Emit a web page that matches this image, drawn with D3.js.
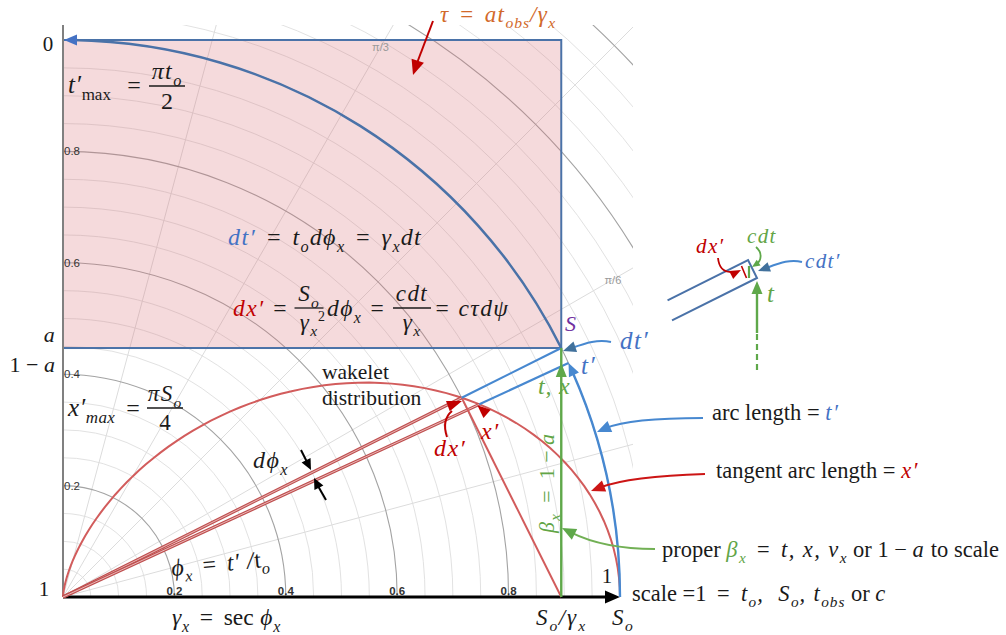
<!DOCTYPE html>
<html><head><meta charset="utf-8">
<script src="https://cdn.jsdelivr.net/npm/d3@7"></script>
<style>body{margin:0;background:#fff}svg{display:block}text{white-space:pre}</style>
</head><body>
<svg id="c" width="1006" height="635"></svg>
<script>
// Geometry of the construction (unit circle, scale = 1)
const betaX = 0.447;            // height of S: proper β_x = 1 − a
const dPhiX = 0.03;             // angular width dϕ_x of the ray pair (rad)
const ringMajor = [0.2, 0.4, 0.6, 0.8, 1.0, 1.2, 1.4];
const ringMinorStep = 0.05;
const ringMax = 1.45;
const ringLabelValues = [0.2, 0.4, 0.6, 0.8];
const ringLabelText = ["0.2", "0.4", "0.6", "0.8"];
const spokeDegrees = [15, 30, 45, 60, 75];
const spokeLabelDegrees = [30, 60];
const spokeLabelText = ["π/6", "π/3"];
const spokeLabelRadius = 1.14;

const C = {
  blueDark: "#4a72a8", blueLine: "#4788d0", blueText: "#4472c4", blueHead: "#41719c",
  red: "#c00000", redCurve: "#d25c5c", redRay: "#bf4f4f",
  green: "#5fa84a", greenText: "#62a546", orange: "#d2692a", purple: "#7030a0",
  ink: "#1a1a1a", grid: "#e2e2e2", gridMajor: "#a3a3a3"
};
const MATH = "'Liberation Serif', 'DejaVu Serif', serif";

const svg = d3.select("#c");
const X = d3.scaleLinear().domain([0, 1]).range([63, 620]);
const Y = d3.scaleLinear().domain([0, 1]).range([597, 40]);
const R = X(1) - X(0);
const P = (r, th) => [X(r * Math.cos(th)), Y(r * Math.sin(th))];
const phi = Math.asin(betaX);
const phi2 = phi - dPhiX;
const gammaInv = Math.cos(phi);

function arcPath(r, t0, t1) {
  const p = d3.path();
  const [x0, y0] = P(r, t0);
  p.moveTo(x0, y0);
  p.arc(X(0), Y(0), r * R, -t0, -t1, true);
  return p.toString();
}
function head(g, tx, ty, dx, dy, len, wid, color) {
  const m = Math.hypot(dx, dy); dx /= m; dy /= m;
  const bx = tx - dx * len, by = ty - dy * len;
  const px = -dy * wid / 2, py = dx * wid / 2;
  g.append("path").attr("d", `M${tx},${ty}L${bx + px},${by + py}L${bx - px},${by - py}Z`).attr("fill", color);
}
function leader(g, pts, color, w, hl, hw, headColor) {
  const [p0, c1, c2, tip] = pts;
  const dx = tip[0] - c2[0], dy = tip[1] - c2[1], m = Math.hypot(dx, dy);
  const ex = tip[0] - dx / m * hl * 0.7, ey = tip[1] - dy / m * hl * 0.7;
  g.append("path").attr("d", `M${p0}C${c1} ${c2} ${ex},${ey}`)
    .attr("fill", "none").attr("stroke", color).attr("stroke-width", w);
  head(g, tip[0], tip[1], dx, dy, hl, hw, headColor || color);
}
// text with _{sub}, ^{sup}, {#hex|coloured}, {~upright}; italic runs get math spacing
function rich(g, x, y, src, o = {}) {
  const size = o.size || 22;
  const ls = o.ls === undefined ? 1.4 : o.ls;
  const t = g.append("text").attr("x", x).attr("y", y)
    .attr("font-family", o.family || MATH).attr("font-size", size)
    .attr("font-style", o.upright ? "normal" : "italic")
    .attr("fill", o.color || C.ink);
  if (o.anchor) t.attr("text-anchor", o.anchor);
  if (o.rotate) t.attr("transform", `rotate(${o.rotate},${x},${y})`);
  const stack = [{ color: null, shift: 0, scale: 1, style: null }];
  let cur = 0, buf = "";
  const flush = () => {
    if (!buf) return;
    const s = stack[stack.length - 1];
    const italic = s.style ? s.style === "italic" : !o.upright;
    const txt = italic ? buf.replace(/ = /g, "\u2004=\u2004") : buf;
    const sp = t.append("tspan").text(txt);
    if (s.color) sp.attr("fill", s.color);
    if (s.scale !== 1) sp.attr("font-size", size * s.scale);
    if (s.style) sp.attr("font-style", s.style);
    if (italic && ls) sp.attr("letter-spacing", ls * s.scale);
    if (s.shift !== cur) { sp.attr("dy", s.shift - cur); cur = s.shift; }
    buf = "";
  };
  for (let i = 0; i < src.length; i++) {
    const c = src[i], top = stack[stack.length - 1];
    if ((c === "_" || c === "^") && src[i + 1] === "{") {
      flush();
      stack.push({ ...top, scale: top.scale * 0.68, shift: top.shift + (c === "_" ? 0.28 : -0.42) * size * top.scale });
      i++;
    } else if (c === "{" && src[i + 1] === "#") {
      flush();
      const bar = src.indexOf("|", i);
      stack.push({ ...top, color: src.slice(i + 1, bar) });
      i = bar;
    } else if (c === "{" && src[i + 1] === "~") {
      flush(); stack.push({ ...top, style: "normal" }); i++;
    } else if (c === "}") {
      flush(); stack.pop();
    } else buf += c;
  }
  flush();
  return t;
}
function frac(g, cx, yl, num, den, w, o = {}) {
  const size = o.size || 22;
  rich(g, cx, yl - 0.3 * size, num, { ...o, anchor: "middle" });
  g.append("line").attr("x1", cx - w / 2).attr("x2", cx + w / 2).attr("y1", yl).attr("y2", yl)
    .attr("stroke", o.color || C.ink).attr("stroke-width", 1.3);
  rich(g, cx, yl + 0.95 * size, den, { ...o, anchor: "middle" });
}

// ---------- polar grid ----------
svg.append("defs").append("clipPath").attr("id", "gridClip")
  .append("rect").attr("x", X(0)).attr("y", 25).attr("width", 633 - X(0)).attr("height", Y(0) - 25);
const grid = svg.append("g").attr("clip-path", "url(#gridClip)").attr("fill", "none");
const minorRings = d3.range(1, Math.round(ringMax / ringMinorStep) + 1).map(i => i * ringMinorStep)
  .filter(r => !ringMajor.some(m => Math.abs(m - r) < 1e-6));
grid.selectAll(".minor").data(minorRings).join("path")
  .attr("d", r => arcPath(r, 0, Math.PI / 2)).attr("stroke", C.grid).attr("stroke-width", 1);
grid.selectAll(".spoke").data(spokeDegrees).join("line")
  .attr("x1", X(0)).attr("y1", Y(0))
  .attr("x2", d => P(1.6, d * Math.PI / 180)[0]).attr("y2", d => P(1.6, d * Math.PI / 180)[1])
  .attr("stroke", "#dcdcdc").attr("stroke-width", 1);
grid.selectAll(".major").data(ringMajor).join("path")
  .attr("d", r => arcPath(r, 0, Math.PI / 2)).attr("stroke", C.gridMajor).attr("stroke-width", 1.1);

// ---------- shaded region 0..a above S ----------
svg.append("rect")
  .attr("x", X(0)).attr("y", Y(1))
  .attr("width", X(gammaInv) - X(0)).attr("height", Y(betaX) - Y(1))
  .attr("fill", "rgb(215,112,120)").attr("fill-opacity", 0.26)
  .attr("stroke", C.blueDark).attr("stroke-width", 2);

// spoke labels and ring labels
const lab = svg.append("g").attr("font-family", "'Liberation Sans', Arial, sans-serif");
spokeLabelDegrees.forEach((d, i) => {
  const [x, y] = P(spokeLabelRadius, d * Math.PI / 180);
  lab.append("text").attr("x", x).attr("y", y + 4).attr("text-anchor", "middle")
    .attr("font-size", 11).attr("fill", "#9a9a9a").text(spokeLabelText[i]);
});
ringLabelValues.forEach((v, i) => {
  lab.append("text").attr("x", X(v)).attr("y", Y(0) - 2).attr("text-anchor", "middle")
    .attr("font-size", 11.5).attr("font-weight", 600).attr("fill", "#333").text(ringLabelText[i]);
  lab.append("text").attr("x", X(0) + 1).attr("y", Y(v) + 4)
    .attr("font-size", 11.5).attr("fill", "#333").text(ringLabelText[i]);
});

// ---------- axes ----------
svg.append("line").attr("x1", X(0)).attr("x2", X(0)).attr("y1", Y(0)).attr("y2", 25)
  .attr("stroke", "#808080").attr("stroke-width", 2);
svg.append("line").attr("x1", X(0)).attr("x2", X(1) - 10).attr("y1", Y(0)).attr("y2", Y(0))
  .attr("stroke", "#000").attr("stroke-width", 2.8);
head(svg, X(1), Y(0), 1, 0, 15, 13, "#000");

// ---------- wakelet distribution r = cos²ϕ ----------
const wakeAngles = d3.range(0, 91).map(d => d * Math.PI / 180);
svg.append("path")
  .attr("d", d3.line()(wakeAngles.map(t => P(Math.cos(t) ** 2, t))))
  .attr("fill", "none").attr("stroke", C.redCurve).attr("stroke-width", 2);

// rays ϕ and ϕ − dϕ from the origin to the wakelet
[phi, phi2].forEach(t => {
  const [x1, y1] = P(Math.cos(t) ** 2, t);
  svg.append("line").attr("x1", X(0)).attr("y1", Y(0)).attr("x2", x1).attr("y2", y1)
    .attr("stroke", C.redRay).attr("stroke-width", 3.2);
  svg.append("line").attr("x1", X(0)).attr("y1", Y(0)).attr("x2", x1).attr("y2", y1)
    .attr("stroke", "#eec4c4").attr("stroke-width", 0.9);
});
// tangent x' from S_o/γ_x to the wakelet
{
  const [x1, y1] = P(Math.cos(phi) ** 2, phi);
  svg.append("line").attr("x1", X(gammaInv)).attr("y1", Y(0)).attr("x2", x1).attr("y2", y1)
    .attr("stroke", C.redCurve).attr("stroke-width", 2);
}
// continuation of the rays from the wakelet to the unit circle
[phi, phi2].forEach(t => {
  const [x0, y0] = P(Math.cos(t) ** 2, t), [x1, y1] = P(1, t);
  svg.append("line").attr("x1", x0).attr("y1", y0).attr("x2", x1).attr("y2", y1)
    .attr("stroke", C.blueLine).attr("stroke-width", 2.2);
});

// ---------- unit circle: arc length t' ----------
svg.append("path").attr("d", arcPath(1, phi, Math.PI / 2 - 0.018))
  .attr("fill", "none").attr("stroke", C.blueDark).attr("stroke-width", 2.5);
head(svg, X(0) + 1, Y(1), -1, 0, 13, 11, C.blueText);
svg.append("path").attr("d", arcPath(1, 0, phi2 - 0.016))
  .attr("fill", "none").attr("stroke", C.blueLine).attr("stroke-width", 2.4);
{
  const [tx, ty] = P(1, phi2);
  head(svg, tx, ty, -Math.sin(phi2), -Math.cos(phi2), 13, 11, C.blueLine);
}

// ---------- proper β_x ----------
svg.append("line").attr("x1", X(gammaInv)).attr("x2", X(gammaInv)).attr("y1", Y(0)).attr("y2", Y(betaX))
  .attr("stroke", C.green).attr("stroke-width", 2.4);
head(svg, X(gammaInv), Y(betaX) + 15, 0, -1, 14, 11, C.green);

// ---------- annotations ----------
const T = svg.append("g");
// τ
rich(T, 440, 22, "τ = at_{obs}/γ_{x}", { size: 23, color: C.orange });
svg.append("line").attr("x1", 433).attr("y1", 21).attr("x2", 417).attr("y2", 63)
  .attr("stroke", C.red).attr("stroke-width", 2);
head(svg, 413, 75, -4, 12, 15, 13, C.red);

// vertical axis marks
rich(T, 48, 51, "0", { size: 21, upright: true, anchor: "middle" });
rich(T, 50, 342, "a", { size: 22, anchor: "middle" });
rich(T, 33, 372, "{~1 − }a", { size: 22, anchor: "middle" });
rich(T, 44, 596, "1", { size: 21, upright: true, anchor: "middle" });

// t'max and x'max
rich(T, 68, 93, "t′_{{~max}}", { size: 25, ls: 0.6 });
rich(T, 134, 93, "=", { size: 24, upright: true, anchor: "middle" });
frac(T, 167, 86, "πt_{o}", "{~2}", 36, { size: 24 });
rich(T, 68, 416, "x′_{max}", { size: 25, ls: 0.6 });
rich(T, 133, 416, "=", { size: 24, upright: true, anchor: "middle" });
frac(T, 165, 408, "πS_{o}", "{~4}", 36, { size: 23 });

// dt' relation
rich(T, 228, 245, "{#4472c4|dt′} = t_{o}dϕ_{x} = γ_{x}dt", { size: 24 });
// dx' relation
rich(T, 233, 316, "{#c00000|dx′} =", { size: 23.5 });
frac(T, 309, 308, "S_{o}", "γ_{x}", 29, { size: 23 });
rich(T, 318, 321, "2", { size: 14, upright: true });
rich(T, 327, 316, "dϕ_{x} =", { size: 23.5 });
frac(T, 412, 308, "cdt", "γ_{x}", 38, { size: 23 });
rich(T, 434, 316, "= cτdψ", { size: 23.5 });

// around S
rich(T, 565, 331, "S", { size: 22, color: C.purple });
rich(T, 620, 349, "dt′", { size: 25, color: C.blueText });
leader(T, [[611, 342], [598, 339], [586, 343], [563, 351]], C.blueLine, 2, 13, 11, C.blueHead);
rich(T, 581, 374, "t′", { size: 25, color: C.blueText });
rich(T, 538, 394, "t, x", { size: 24, color: C.greenText, ls: 0.8 });
rich(T, 554, 533, "β_{x} = {~1 − }a", { size: 22, color: C.greenText, rotate: -90 });

// wakelet labels
T.append("text").attr("x", 322).attr("y", 379).attr("font-family", MATH).attr("font-size", 21.5)
  .attr("fill", C.ink).text("wakelet");
T.append("text").attr("x", 322).attr("y", 405).attr("font-family", MATH).attr("font-size", 21.5)
  .attr("fill", C.ink).text("distribution");

// dϕ_x
rich(T, 253, 468, "dϕ_{x}", { size: 24 });
svg.append("line").attr("x1", 301).attr("y1", 450).attr("x2", 307).attr("y2", 462).attr("stroke", "#000").attr("stroke-width", 2);
head(svg, 311, 470, 0.45, 0.9, 11, 10, "#000");
svg.append("line").attr("x1", 326).attr("y1", 500).attr("x2", 318).attr("y2", 486).attr("stroke", "#000").attr("stroke-width", 2);
head(svg, 314, 478, -0.45, -0.9, 11, 10, "#000");

// ϕ_x and γ_x
rich(T, 172, 576, "ϕ_{x} = t′ /{~t}_{o}", { size: 24, rotate: -5.5, ls: 0.8 });
rich(T, 172, 625, "γ_{x} = {~sec} ϕ_{x}", { size: 23.5, ls: 0.8 });
rich(T, 536, 625, "S_{o}/γ_{x}", { size: 23, ls: 2 });
rich(T, 612, 625, "S_{o}", { size: 23 });
rich(T, 607, 583, "1", { size: 21, upright: true, anchor: "middle" });

// dx' and x' at the wakelet
rich(T, 434, 456, "dx′", { size: 24, color: C.red });
T.append("path").attr("d", "M447,437 C443,425 446,416 452,411").attr("fill", "none")
  .attr("stroke", C.red).attr("stroke-width", 2);
head(svg, 462, 401, 0.94, -0.34, 15, 11, C.red);
rich(T, 481, 439, "x′", { size: 24, color: C.red });
{
  const [tx, ty] = P(Math.cos(phi2) ** 2, phi2);
  head(svg, tx - 2, ty + 1, -0.75, -0.66, 13, 11, C.red);
}

// right-hand legend notes
rich(T, 712, 420, "{~arc length = }{#4472c4|t′}", { size: 22.5 });
leader(T, [[703, 418], [670, 418], [625, 420], [597, 432]], C.blueLine, 2, 14, 12);
rich(T, 716, 478, "{~tangent arc length = }{#c00000|x′}", { size: 22.5 });
leader(T, [[705, 474], [670, 475], [625, 478], [591, 491]], "#cc1515", 2, 14, 12);
rich(T, 662, 557, "{~proper }{#62a546|β_{x}} = t, x, v_{x}{~ or 1 − }a{~ to scale}", { size: 22.5 });
leader(T, [[655, 549], [622, 549], [592, 543], [562, 528]], "#72b055", 2, 14, 12, C.green);
rich(T, 632, 601, "{~scale =1} = t_{o},  S_{o}, t_{obs}{~ or }c", { size: 22.5 });

// ---------- inset: element at S ----------
{
  const u = [Math.cos(phi), -Math.sin(phi)], n = [-Math.sin(phi), -Math.cos(phi)];
  const Cn = [757, 278];
  const up = [Cn[0] + 20 * n[0], Cn[1] + 20 * n[1]];
  const g = svg.append("g");
  g.append("path")
    .attr("d", `M${up[0] - 90 * u[0]},${up[1] - 90 * u[1]}L${up}L${Cn}L${Cn[0] - 95 * u[0]},${Cn[1] - 95 * u[1]}`)
    .attr("fill", "none").attr("stroke", C.blueDark).attr("stroke-width", 2);
  head(g, 741, 270, u[0], u[1], 11, 9, C.red);
  g.append("line").attr("x1", 741.5).attr("y1", 266).attr("x2", 746.5).attr("y2", 278)
    .attr("stroke", C.red).attr("stroke-width", 1.6);
  g.append("line").attr("x1", 749).attr("y1", 266).attr("x2", 749).attr("y2", 278)
    .attr("stroke", C.green).attr("stroke-width", 2.2);
  leader(g, [[802, 262], [790, 259], [780, 263], [758, 271]], C.blueLine, 2, 12, 10, C.blueHead);
  rich(g, 805, 268, "cdt′", { size: 21, color: C.blueText });
  rich(g, 747, 243, "cdt", { size: 21, color: C.greenText });
  leader(g, [[756, 247], [763, 253], [761, 261], [752, 267]], C.green, 1.8, 8, 7);
  rich(g, 696, 253, "dx′", { size: 21, color: C.red });
  g.append("path").attr("d", "M718,258 C719,268 724,272 731,272").attr("fill", "none")
    .attr("stroke", C.red).attr("stroke-width", 1.8);
  g.append("line").attr("x1", 757).attr("x2", 757).attr("y1", 333).attr("y2", 292)
    .attr("stroke", C.green).attr("stroke-width", 2.4);
  g.append("line").attr("x1", 757).attr("x2", 757).attr("y1", 370).attr("y2", 333)
    .attr("stroke", C.green).attr("stroke-width", 2.2).attr("stroke-dasharray", "6,4");
  head(g, 757, 281, 0, -1, 13, 11, C.green);
  rich(g, 767, 302, "t", { size: 25, color: C.greenText });
}
</script>
</body></html>
